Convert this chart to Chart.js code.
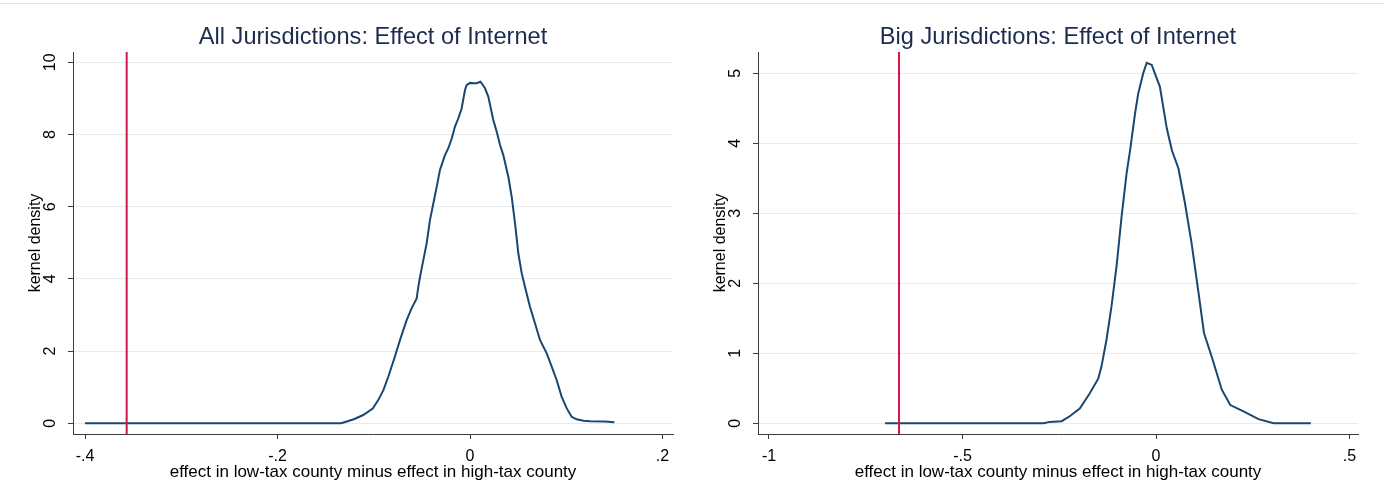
<!DOCTYPE html>
<html>
<head>
<meta charset="utf-8">
<script src="https://cdn.jsdelivr.net/npm/chart.js@4.4.1/dist/chart.umd.min.js"></script>
<style>
  html, body { margin: 0; padding: 0; background: #fff; overflow: hidden; }
  body { width: 1384px; height: 500px; position: relative; }
  .topline { position: absolute; left: 0; top: 3px; width: 1384px; height: 1px; background: #e2e2e2; }
  canvas { position: absolute; top: 0; }
  #allChart { left: 0; }
  #bigChart { left: 685px; }
</style>
</head>
<body>
<div class="topline"></div>
<canvas id="allChart" width="746" height="500"></canvas>
<canvas id="bigChart" width="746" height="500"></canvas>
<script>
// --- data ---

// All jurisdictions
const allX = [-0.400, -0.300, -0.200, -0.146, -0.134, -0.128, -0.120, -0.111, -0.101, -0.0952,
  -0.090, -0.0849, -0.078, -0.0727, -0.0658, -0.0606, -0.0554, -0.0537, -0.0519, -0.0485,
  -0.0450, -0.0416, -0.0381, -0.0346, -0.0312, -0.0260, -0.0225, -0.0190, -0.0156, -0.0121,
  -0.0087, -0.0052, -0.0035, 0.000, 0.004, 0.007, 0.0109, 0.0121, 0.0156, 0.0190,
  0.0242, 0.0277, 0.0312, 0.0346, 0.0398, 0.0433, 0.0468, 0.0502, 0.0537, 0.0571,
  0.0623, 0.0675, 0.0727, 0.0797, 0.0849, 0.0900, 0.0952, 0.1004, 0.1056, 0.1108,
  0.118, 0.125, 0.140, 0.150];
const allDensity = [0, 0, 0, 0, 0, 0.05, 0.12, 0.23, 0.41, 0.65,
  0.92, 1.29, 1.85, 2.31, 2.86, 3.19, 3.46, 3.78, 4.06, 4.52,
  4.99, 5.63, 6.09, 6.55, 7.02, 7.43, 7.62, 7.89, 8.22, 8.45,
  8.72, 9.23, 9.37, 9.43, 9.42, 9.42, 9.46, 9.42, 9.28, 9.05,
  8.40, 8.08, 7.71, 7.43, 6.83, 6.28, 5.54, 4.71, 4.16, 3.78,
  3.23, 2.77, 2.31, 1.94, 1.57, 1.20, 0.74, 0.42, 0.18, 0.11,
  0.07, 0.06, 0.05, 0.03];
const allCut = -0.3567;
const allXTicks = [-0.4, -0.2, 0, 0.2];
const allXLabels = ['-.4', '-.2', '0', '.2'];
const allYTicks = [0, 2, 4, 6, 8, 10];

// Big jurisdictions
const bigX = [-0.700, -0.500, -0.290, -0.275, -0.244, -0.223, -0.197, -0.171, -0.149, -0.141,
  -0.128, -0.115, -0.102, -0.089, -0.076, -0.067, -0.054, -0.046, -0.033, -0.024,
  -0.011, -0.003, 0.010, 0.028, 0.041, 0.058, 0.075, 0.092, 0.110, 0.124,
  0.144, 0.170, 0.192, 0.226, 0.265, 0.304, 0.400];
const bigDensity = [0, 0, 0, 0.02, 0.03, 0.10, 0.21, 0.43, 0.64, 0.81,
  1.19, 1.67, 2.24, 2.95, 3.57, 3.90, 4.43, 4.71, 5.00, 5.15,
  5.12, 5.00, 4.81, 4.21, 3.90, 3.64, 3.14, 2.57, 1.86, 1.29,
  0.95, 0.48, 0.26, 0.17, 0.06, 0, 0];
const bigCut = -0.664;
const bigXTicks = [-1, -0.5, 0, 0.5];
const bigXLabels = ['-1', '-.5', '0', '.5'];
const bigYTicks = [0, 1, 2, 3, 4, 5];

Chart.defaults.font.family = "'Liberation Sans', Arial, sans-serif";
Chart.defaults.color = '#000';

const navy = '#1a476f';
const red = '#d0174a';
const axisColor = '#3c3c3c';
const gridColor = '#e4ecf0';

function makeChart(id, opts) {
  const curve = opts.xs.map((x, i) => ({ x: x, y: opts.ys[i] }));
  const cutLine = [{ x: opts.cut, y: opts.yMin }, { x: opts.cut, y: opts.yMax }];

  return new Chart(document.getElementById(id), {
    type: 'line',
    data: {
      datasets: [
        { data: cutLine, borderColor: red, borderWidth: 2, pointRadius: 0, tension: 0 },
        { data: curve, borderColor: navy, borderWidth: 2, pointRadius: 0, tension: 0 }
      ]
    },
    options: {
      responsive: false,
      animation: false,
      devicePixelRatio: 1,
      layout: { padding: 0 },
      plugins: {
        legend: { display: false },
        tooltip: { enabled: false },
        title: {
          display: true,
          text: opts.title,
          color: '#1e2b50',
          font: { size: 23.6, weight: 'normal' },
          padding: { top: 23, bottom: 0.7 }
        }
      },
      scales: {
        x: {
          type: 'linear',
          min: opts.xMin,
          max: opts.xMax,
          afterBuildTicks: s => { s.ticks = opts.xTicks.map(v => ({ value: v })); },
          afterFit: s => { s.height = 66; },
          ticks: {
            callback: (v, i) => opts.xLabels[i],
            font: { size: 16 },
            color: '#000',
            padding: 8,
            maxRotation: 0,
            autoSkip: false
          },
          grid: { drawOnChartArea: false, drawTicks: true, tickLength: 5, tickColor: axisColor, tickWidth: 1 },
          border: { display: true, color: axisColor, width: 1 },
          title: {
            display: true,
            text: 'effect in low-tax county minus effect in high-tax county',
            font: { size: 17 },
            color: '#000',
            padding: { top: 0, bottom: 17.4 }
          }
        },
        y: {
          type: 'linear',
          min: opts.yMin,
          max: opts.yMax,
          afterBuildTicks: s => { s.ticks = opts.yTicks.map(v => ({ value: v })); },
          afterFit: s => { s.width = 73; },
          ticks: {
            font: { size: 16 },
            color: '#000',
            minRotation: 90,
            maxRotation: 90,
            crossAlign: 'center',
            padding: opts.yPad,
            autoSkip: false
          },
          grid: { color: gridColor, lineWidth: 1, tickColor: axisColor, tickLength: 5, tickWidth: 1 },
          border: { display: true, color: axisColor, width: 1 },
          title: {
            display: true,
            text: 'kernel density',
            font: { size: 16 },
            color: '#000',
            padding: { top: 26.4, bottom: 0 }
          }
        },
        // empty right margin so the title centres over the plot region
        yr: {
          type: 'linear',
          position: 'right',
          min: 0,
          max: 1,
          afterFit: s => { s.width = 73; },
          ticks: { display: false },
          grid: { display: false },
          border: { display: false }
        }
      }
    }
  });
}

makeChart('allChart', {
  title: 'All Jurisdictions: Effect of Internet',
  xs: allX, ys: allDensity, cut: allCut,
  xMin: -0.41247, xMax: 0.21091, yMin: -0.296, yMax: 10.285,
  xTicks: allXTicks, xLabels: allXLabels, yTicks: allYTicks, yPad: 8.3
});

makeChart('bigChart', {
  title: 'Big Jurisdictions: Effect of Internet',
  xs: bigX, ys: bigDensity, cut: bigCut,
  xMin: -1.02842, xMax: 0.52196, yMin: -0.153, yMax: 5.304,
  xTicks: bigXTicks, xLabels: bigXLabels, yTicks: bigYTicks, yPad: 12.8
});
</script>
</body>
</html>
